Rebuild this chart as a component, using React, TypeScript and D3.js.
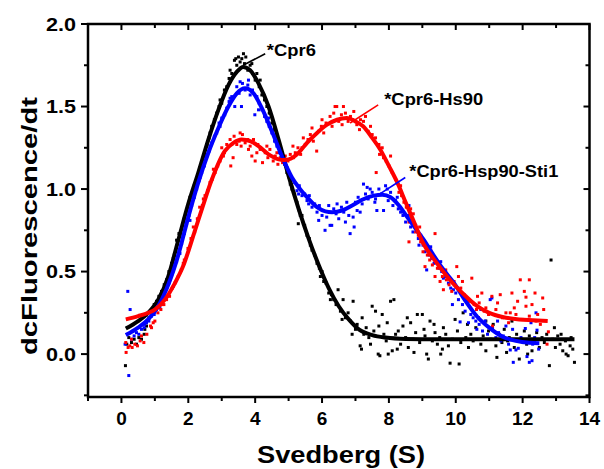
import React from "react";
import * as d3 from "d3";

// ---------- data ----------
const blackFitX = [0.13, 0.5, 0.8, 1.1, 1.4, 1.7, 2.0, 2.3, 2.6, 2.9, 3.2, 3.45, 3.64, 3.85, 4.1, 4.4, 4.7, 5.0, 5.3, 5.6, 5.9, 6.2, 6.5, 6.8, 7.1, 7.5, 7.9, 8.5, 9.5, 11, 12.5, 13.55];
const blackFitY = [0.155, 0.2, 0.25, 0.33, 0.47, 0.69, 0.91, 1.1, 1.3, 1.48, 1.63, 1.71, 1.74, 1.72, 1.64, 1.5, 1.3, 1.08, 0.88, 0.7, 0.54, 0.4, 0.29, 0.21, 0.15, 0.115, 0.1, 0.092, 0.09, 0.09, 0.09, 0.09];

const blueFitX = [0.13, 0.5, 0.8, 1.1, 1.4, 1.7, 2.0, 2.3, 2.6, 2.9, 3.2, 3.45, 3.7, 3.95, 4.2, 4.5, 4.84, 5.1, 5.34, 5.6, 5.85, 6.1, 6.3, 6.6, 6.9, 7.2, 7.55, 7.8, 8.05, 8.3, 8.55, 8.8, 9.05, 9.3, 9.6, 9.95, 10.3, 10.65, 11.0, 11.4, 11.8, 12.2, 12.5];
const blueFitY = [0.115, 0.16, 0.21, 0.29, 0.42, 0.6, 0.83, 1.04, 1.22, 1.37, 1.5, 1.58, 1.61, 1.58, 1.49, 1.35, 1.18, 1.07, 1.0, 0.94, 0.89, 0.865, 0.86, 0.87, 0.9, 0.935, 0.96, 0.965, 0.95, 0.9, 0.83, 0.76, 0.69, 0.61, 0.52, 0.43, 0.32, 0.225, 0.16, 0.105, 0.08, 0.068, 0.065];

const redFitX = [0.13, 0.5, 0.8, 1.0, 1.3, 1.6, 1.84, 2.17, 2.44, 2.69, 3.09, 3.35, 3.59, 3.85, 4.1, 4.4, 4.7, 4.84, 5.0, 5.3, 5.55, 5.85, 6.15, 6.45, 6.74, 7.0, 7.23, 7.5, 7.74, 8.0, 8.25, 8.5, 8.73, 9.03, 9.4, 9.74, 10.0, 10.3, 10.64, 11.0, 11.4, 11.9, 12.3, 12.75];
const redFitY = [0.21, 0.23, 0.25, 0.27, 0.33, 0.43, 0.53, 0.73, 0.9, 1.05, 1.23, 1.28, 1.3, 1.29, 1.26, 1.21, 1.18, 1.176, 1.18, 1.22, 1.28, 1.34, 1.39, 1.42, 1.43, 1.41, 1.38, 1.31, 1.24, 1.14, 1.04, 0.92, 0.81, 0.67, 0.56, 0.47, 0.41, 0.35, 0.29, 0.25, 0.225, 0.21, 0.205, 0.2];

const blackPts: [number, number][] = [
  [0.12, -0.07], [0.16, 0.06], [0.22, 0.1], [0.3, 0.07], [0.38, 0.09], [0.45, 0.06], [0.52, 0.1], [0.6, 0.09], [0.68, 0.12], [0.75, 0.17],
  [0.82, 0.22], [0.9, 0.26], [0.98, 0.3], [1.05, 0.32], [1.12, 0.35], [1.2, 0.38], [1.28, 0.42], [1.35, 0.45], [1.42, 0.5], [1.5, 0.55],
  [1.58, 0.6], [1.65, 0.69], [1.72, 0.73], [1.8, 0.76], [1.88, 0.82], [1.95, 0.87], [2.02, 0.92], [2.1, 0.97], [2.18, 1.02], [2.25, 1.05],
  [2.32, 1.1], [2.4, 1.16], [2.48, 1.2], [2.55, 1.27], [2.62, 1.31], [2.7, 1.38], [2.78, 1.42], [2.85, 1.46], [2.92, 1.5], [3.0, 1.52],
  [3.08, 1.6], [3.15, 1.62], [3.22, 1.67], [3.3, 1.7], [3.38, 1.78], [3.45, 1.75], [3.5, 1.8], [3.55, 1.77], [3.6, 1.79], [3.68, 1.76],
  [3.72, 1.8], [3.78, 1.72], [3.85, 1.75], [3.92, 1.7], [4.0, 1.66], [4.05, 1.7], [4.12, 1.62], [4.2, 1.57], [4.28, 1.54], [4.35, 1.5],
  [4.42, 1.46], [4.5, 1.4], [4.58, 1.36], [4.65, 1.32], [4.72, 1.26], [4.8, 1.22], [4.88, 1.17], [4.95, 1.1], [5.02, 1.07], [5.1, 1.0],
  [5.18, 0.97], [5.25, 0.92], [5.29, 0.79], [5.32, 0.87], [5.4, 0.84], [5.48, 0.78], [5.55, 0.72], [5.62, 0.7], [5.7, 0.63], [5.78, 0.6],
  [5.85, 0.55], [5.92, 0.52], [6.0, 0.5], [6.05, 0.44], [6.12, 0.43], [6.2, 0.37], [6.28, 0.36], [6.35, 0.33], [6.42, 0.3], [6.48, 0.39],
  [6.55, 0.26], [6.63, 0.33], [6.7, 0.22], [6.78, 0.25], [6.85, 0.2], [6.93, 0.32], [7.0, 0.15], [7.05, 0.18], [7.14, 0.05], [7.18, 0.03],
  [7.25, 0.12], [7.32, 0.16], [7.4, 0.1], [7.5, 0.29], [7.55, 0.14], [7.6, 0.26], [7.68, 0.0], [7.73, -0.01], [7.8, 0.24], [7.85, 0.12],
  [7.92, 0.08], [7.98, 0.0], [8.05, 0.32], [8.1, 0.02], [8.15, 0.33], [8.2, 0.12], [8.28, 0.14], [8.35, 0.06], [8.42, 0.17], [8.5, 0.1],
  [8.58, 0.04], [8.65, 0.19], [8.72, 0.09], [8.8, 0.13], [8.85, 0.24], [8.92, 0.07], [9.0, 0.24], [9.08, 0.11], [9.13, 0.0], [9.18, -0.03],
  [9.23, 0.2], [9.3, 0.08], [9.38, 0.13], [9.45, 0.06], [9.52, 0.1], [9.6, 0.03], [9.63, 0.16], [9.7, 0.12], [9.78, 0.05], [9.83, -0.055],
  [9.9, 0.09], [9.98, 0.21], [10.05, 0.14], [10.1, -0.06], [10.15, 0.07], [10.22, 0.25], [10.3, 0.1], [10.38, 0.04], [10.45, 0.12], [10.52, 0.08],
  [10.6, 0.16], [10.68, 0.22], [10.75, 0.06], [10.82, 0.11], [10.9, 0.02], [10.98, 0.14], [11.05, 0.09], [11.12, 0.18], [11.2, 0.05], [11.23, -0.02],
  [11.3, 0.12], [11.38, 0.07], [11.45, 0.15], [11.52, 0.01], [11.6, 0.1], [11.68, 0.2], [11.75, 0.04], [11.82, 0.12], [11.9, -0.03], [11.98, 0.09],
  [12.05, 0.14], [12.12, 0.06], [12.2, 0.11], [12.28, 0.02], [12.35, 0.08], [12.42, 0.13], [12.5, 0.04], [12.58, 0.1], [12.65, 0.07], [12.72, 0.12],
  [12.8, -0.07], [12.85, 0.57], [12.9, 0.09], [12.98, 0.04], [13.05, 0.11], [13.12, 0.06], [13.2, 0.02], [13.28, 0.08], [13.3, 0.0], [13.36, -0.01],
  [13.42, 0.05], [13.5, 0.03], [13.55, -0.05],
  [0.7, 0.15], [1.0, 0.27], [1.3, 0.41], [1.55, 0.58], [1.75, 0.72], [2.05, 0.95], [2.35, 1.13], [2.65, 1.34], [2.95, 1.54], [3.25, 1.72],
  [3.42, 1.79], [3.65, 1.82], [3.9, 1.76], [4.15, 1.66], [4.45, 1.47], [4.75, 1.25], [5.05, 1.03], [5.35, 0.84], [5.65, 0.66], [5.95, 0.47],
  [6.25, 0.33], [6.6, 0.21], [6.9, 0.12], [7.2, 0.22], [7.45, 0.06], [7.7, 0.17], [7.95, 0.19], [8.25, 0.03], [8.55, 0.22], [8.75, 0.01],
  [9.05, 0.15], [9.35, 0.18], [9.55, 0.0], [10.35, 0.18], [10.9, 0.2], [11.55, 0.08], [12.15, 0.0], [12.95, 0.16], [13.15, 0.12], [13.45, 0.1],
];

const bluePts: [number, number][] = [
  [0.11, 0.06], [0.19, 0.38], [0.22, -0.13], [0.26, 0.27], [0.3, 0.09], [0.38, 0.11], [0.45, 0.13], [0.52, 0.12], [0.6, 0.15], [0.68, 0.16],
  [0.75, 0.19], [0.82, 0.2], [0.9, 0.23], [0.98, 0.24], [1.05, 0.27], [1.12, 0.3], [1.2, 0.33], [1.28, 0.36], [1.35, 0.4], [1.42, 0.43],
  [1.5, 0.48], [1.58, 0.53], [1.65, 0.56], [1.72, 0.62], [1.8, 0.67], [1.88, 0.73], [1.95, 0.79], [2.02, 0.84], [2.1, 0.9], [2.18, 0.95],
  [2.25, 1.0], [2.32, 1.05], [2.4, 1.1], [2.48, 1.14], [2.55, 1.2], [2.62, 1.23], [2.7, 1.28], [2.78, 1.32], [2.85, 1.34], [2.92, 1.4],
  [3.0, 1.43], [3.09, 1.45], [3.15, 1.49], [3.22, 1.53], [3.3, 1.56], [3.39, 1.5], [3.45, 1.62], [3.52, 1.58], [3.59, 1.5], [3.62, 1.64],
  [3.7, 1.6], [3.78, 1.63], [3.85, 1.57], [3.92, 1.6], [3.99, 1.45], [4.05, 1.56], [4.12, 1.52], [4.2, 1.48], [4.28, 1.44], [4.35, 1.41],
  [4.42, 1.38], [4.5, 1.34], [4.58, 1.29], [4.65, 1.26], [4.72, 1.22], [4.8, 1.2], [4.88, 1.15], [4.95, 1.13], [5.02, 1.08], [5.1, 1.06],
  [5.18, 1.04], [5.25, 0.99], [5.32, 1.02], [5.4, 0.96], [5.48, 0.97], [5.55, 0.93], [5.62, 0.96], [5.7, 0.89], [5.78, 0.91], [5.85, 0.86],
  [5.92, 0.9], [6.0, 0.84], [6.09, 0.75], [6.14, 0.83], [6.2, 0.9], [6.24, 0.78], [6.29, 0.78], [6.35, 0.88], [6.42, 0.85], [6.5, 0.82],
  [6.58, 0.89], [6.65, 0.86], [6.74, 0.92], [6.8, 0.84], [6.84, 0.73], [6.93, 0.83], [6.96, 0.77], [7.0, 0.92], [7.08, 0.95], [7.14, 0.86],
  [7.2, 0.91], [7.24, 1.03], [7.3, 0.97], [7.38, 0.94], [7.44, 1.0], [7.5, 0.98], [7.58, 0.92], [7.64, 0.87], [7.7, 1.0], [7.78, 0.97],
  [7.84, 0.87], [7.9, 1.02], [7.98, 0.93], [8.05, 0.98], [8.12, 0.9], [8.2, 0.93], [8.28, 0.88], [8.35, 0.86], [8.42, 0.84], [8.5, 0.8],
  [8.58, 0.84], [8.65, 0.77], [8.72, 0.74], [8.8, 0.78], [8.88, 0.7], [8.95, 0.72], [9.02, 0.66], [9.08, 0.62], [9.13, 0.51], [9.2, 0.6],
  [9.28, 0.58], [9.35, 0.55], [9.42, 0.57], [9.5, 0.52], [9.58, 0.5], [9.63, 0.46], [9.7, 0.47], [9.78, 0.43], [9.85, 0.4], [9.9, 0.3],
  [9.93, 0.39], [10.0, 0.37], [10.08, 0.33], [10.13, 0.195], [10.2, 0.3], [10.28, 0.26], [10.38, 0.19], [10.45, 0.24], [10.52, 0.22], [10.6, 0.2],
  [10.63, 0.15], [10.7, 0.18], [10.8, 0.14], [10.88, 0.2], [10.95, 0.12], [11.03, 0.33], [11.08, 0.34], [11.1, 0.16], [11.2, 0.1], [11.28, 0.13],
  [11.35, 0.08], [11.42, 0.11], [11.5, 0.17], [11.58, 0.06], [11.63, 0.025], [11.72, -0.05], [11.8, 0.025], [11.87, 0.035], [11.95, 0.1], [12.02, 0.07],
  [12.08, 0.155], [12.13, -0.015], [12.2, -0.05], [12.28, -0.04], [12.3, 0.06], [12.36, 0.1], [12.4, 0.25], [12.43, 0.145], [12.48, 0.03],
  [0.35, 0.14], [0.7, 0.18], [1.15, 0.28], [1.45, 0.45], [1.75, 0.61], [2.05, 0.81], [2.35, 1.07], [2.65, 1.26], [2.95, 1.38], [3.25, 1.55],
  [3.55, 1.65], [3.8, 1.66], [4.1, 1.48], [4.4, 1.43], [4.7, 1.18], [5.0, 1.11], [5.3, 0.97], [5.6, 0.91], [5.9, 0.81], [6.45, 0.91],
  [6.7, 0.8], [7.05, 0.87], [7.35, 1.01], [7.6, 0.94], [7.95, 1.0], [8.25, 0.95], [8.6, 0.9], [8.9, 0.66], [9.25, 0.65], [9.55, 0.56],
  [10.25, 0.36], [10.75, 0.27], [11.25, 0.2], [11.7, 0.15], [12.25, 0.19],
];

const redPts: [number, number][] = [
  [0.13, 0.07], [0.14, 0.01], [0.2, 0.04], [0.25, 0.05], [0.32, 0.04], [0.4, 0.06], [0.48, 0.05], [0.56, 0.08], [0.67, 0.07], [0.76, 0.12],
  [0.87, 0.17], [0.95, 0.19], [1.0, 0.2], [1.09, 0.25], [1.18, 0.27], [1.27, 0.3], [1.35, 0.33], [1.44, 0.35], [1.52, 0.4], [1.6, 0.43],
  [1.7, 0.47], [1.79, 0.51], [1.88, 0.57], [1.99, 0.64], [2.08, 0.7], [2.19, 0.74], [2.27, 0.82], [2.34, 0.89], [2.42, 0.9], [2.5, 0.96],
  [2.58, 0.99], [2.65, 1.04], [2.72, 1.06], [2.8, 1.1], [2.88, 1.14], [2.95, 1.17], [3.0, 1.25], [3.08, 1.22], [3.15, 1.27], [3.25, 1.3],
  [3.27, 1.14], [3.34, 1.19], [3.37, 1.32], [3.45, 1.27], [3.52, 1.29], [3.58, 1.26], [3.62, 1.33], [3.7, 1.28], [3.78, 1.3], [3.85, 1.26],
  [3.9, 1.2], [3.95, 1.3], [4.0, 1.17], [4.08, 1.27], [4.15, 1.24], [4.22, 1.16], [4.3, 1.22], [4.38, 1.19], [4.44, 1.24], [4.54, 1.17],
  [4.6, 1.2], [4.68, 1.15], [4.75, 1.19], [4.82, 1.16], [4.9, 1.2], [4.98, 1.17], [5.05, 1.21], [5.13, 1.26], [5.2, 1.22], [5.28, 1.25],
  [5.36, 1.21], [5.44, 1.31], [5.5, 1.27], [5.58, 1.3], [5.65, 1.33], [5.74, 1.29], [5.84, 1.23], [5.9, 1.35], [5.98, 1.38], [6.05, 1.34],
  [6.12, 1.4], [6.24, 1.44], [6.3, 1.38], [6.39, 1.5], [6.44, 1.5], [6.5, 1.41], [6.58, 1.45], [6.64, 1.5], [6.7, 1.46], [6.78, 1.41],
  [6.85, 1.44], [6.92, 1.42], [7.04, 1.39], [7.12, 1.36], [7.24, 1.41], [7.3, 1.44], [7.38, 1.35], [7.5, 1.33], [7.6, 1.31], [7.62, 1.1],
  [7.7, 1.27], [7.8, 1.25], [7.84, 1.19], [7.92, 1.17], [8.0, 1.14], [8.1, 1.1], [8.2, 1.06], [8.3, 0.98], [8.38, 0.96], [8.45, 0.92],
  [8.52, 0.89], [8.6, 0.8], [8.6, 0.68], [8.68, 0.83], [8.73, 0.85], [8.8, 0.74], [8.88, 0.72], [8.95, 0.68], [9.02, 0.62], [9.08, 0.53],
  [9.15, 0.6], [9.22, 0.57], [9.3, 0.54], [9.38, 0.47], [9.38, 0.73], [9.45, 0.52], [9.53, 0.44], [9.6, 0.47], [9.63, 0.39], [9.72, 0.45],
  [9.8, 0.42], [9.88, 0.38], [9.95, 0.44], [10.03, 0.53], [10.08, 0.47], [10.15, 0.4], [10.23, 0.36], [10.3, 0.33], [10.38, 0.32], [10.48, 0.46],
  [10.55, 0.3], [10.62, 0.27], [10.7, 0.31], [10.78, 0.37], [10.85, 0.26], [10.9, 0.28], [10.98, 0.24], [11.08, 0.35], [11.1, 0.17], [11.2, 0.27],
  [11.33, 0.36], [11.4, 0.22], [11.5, 0.25], [11.58, 0.19], [11.63, 0.25], [11.68, 0.37], [11.75, 0.28], [11.85, 0.32], [11.93, 0.45], [12.0, 0.21],
  [12.1, 0.29], [12.1, 0.345], [12.2, 0.45], [12.2, 0.23], [12.28, 0.3], [12.37, 0.37], [12.45, 0.24], [12.53, 0.18], [12.63, 0.27], [12.73, 0.06],
  [12.77, 0.135],
  [0.3, 0.09], [0.6, 0.11], [0.9, 0.16], [1.22, 0.3], [1.55, 0.41], [1.85, 0.55], [2.15, 0.77], [2.45, 0.94], [2.75, 1.12], [3.05, 1.2],
  [3.3, 1.27], [3.55, 1.34], [3.8, 1.24], [4.05, 1.22], [4.35, 1.26], [4.65, 1.22], [5.15, 1.19], [5.4, 1.25], [5.7, 1.37], [6.0, 1.42],
  [6.35, 1.46], [6.6, 1.39], [6.95, 1.47], [7.15, 1.42], [7.45, 1.38], [7.72, 1.21], [8.05, 1.2], [8.35, 1.02], [8.65, 0.88], [8.92, 0.77],
  [9.25, 0.63], [9.7, 0.51], [10.2, 0.44], [10.65, 0.35], [11.25, 0.31], [11.8, 0.24], [12.05, 0.38], [12.4, 0.2], [12.6, 0.34],
];

const xMajorTicks = [0, 2, 4, 6, 8, 10, 12, 14];
const xMinorTicks = [-1, 1, 3, 5, 7, 9, 11, 13];
const yMajorTicks = [0, 0.5, 1.0, 1.5, 2.0];
const yMinorTicks = [-0.25, 0.25, 0.75, 1.25, 1.75];

const labels = [
  { text: "*Cpr6", color: "#000000", x0: 3.64, y0: 1.75, x1: 4.3, y1: 1.82, tx: 4.35, ty: 1.805, len: 49 },
  { text: "*Cpr6-Hs90", color: "#ff0000", x0: 6.84, y0: 1.4, x1: 7.68, y1: 1.51, tx: 7.86, ty: 1.51, len: 99 },
  { text: "*Cpr6-Hsp90-Sti1", color: "#0000ff", x0: 7.65, y0: 0.96, x1: 8.49, y1: 1.07, tx: 8.61, ty: 1.07, len: 149 },
];

const FONT = "'Liberation Sans', Arial, Helvetica, sans-serif";

export default function App() {
  const left = 88, right = 589.5, top = 24, bottom = 397;
  const x = d3.scaleLinear().domain([-1, 14]).range([left, right]);
  const y = d3.scaleLinear().domain([-0.26, 2.0]).range([bottom, top]);

  const line = d3
    .line<[number, number]>()
    .x((d) => x(d[0]))
    .y((d) => y(d[1]))
    .curve(d3.curveMonotoneX);

  const fits = [
    { xs: blackFitX, ys: blackFitY, color: "#000000" },
    { xs: blueFitX, ys: blueFitY, color: "#0000ff" },
    { xs: redFitX, ys: redFitY, color: "#ff0000" },
  ];
  const scatters = [
    { pts: blackPts, color: "#000000" },
    { pts: bluePts, color: "#0000ff" },
    { pts: redPts, color: "#ff0000" },
  ];
  const fmt = d3.format(".1f");

  return (
    <svg
      width={604}
      height={469}
      style={{ position: "absolute", left: 0, top: 0, background: "#fff" }}
      fontFamily={FONT}
    >
      <rect x={0} y={0} width={604} height={469} fill="#fff" />
      {scatters.map((s, i) => (
        <g key={i} fill={s.color}>
          {s.pts.map((p, j) => (
            <rect key={j} x={x(p[0]) - 1.5} y={y(p[1]) - 1.5} width={3} height={3} />
          ))}
        </g>
      ))}
      {fits.map((f, i) => (
        <path
          key={i}
          d={line(f.xs.map((v, k) => [v, f.ys[k]] as [number, number])) || ""}
          fill="none"
          stroke={f.color}
          strokeWidth={4}
          strokeLinejoin="round"
        />
      ))}
      {labels.map((l, i) => (
        <g key={i}>
          <line x1={x(l.x0)} y1={y(l.y0)} x2={x(l.x1)} y2={y(l.y1)} stroke={l.color} strokeWidth={1.6} />
          <text
            x={x(l.tx)}
            y={y(l.ty)}
            fontSize={17}
            fontWeight="bold"
            fill="#000"
            textLength={l.len}
            lengthAdjust="spacingAndGlyphs"
          >
            {l.text}
          </text>
        </g>
      ))}
      <rect x={left} y={top} width={right - left} height={bottom - top} fill="none" stroke="#000" strokeWidth={2.5} />
      {xMajorTicks.map((t) => (
        <g key={"xM" + t}>
          <line x1={x(t)} x2={x(t)} y1={bottom} y2={bottom + 6} stroke="#000" strokeWidth={2} />
          <line x1={x(t)} x2={x(t)} y1={top} y2={top + 6} stroke="#000" strokeWidth={2} />
          <text x={x(t)} y={425} textAnchor="middle" fontSize={19} fontWeight="bold">
            {t}
          </text>
        </g>
      ))}
      {xMinorTicks.map((t) => (
        <g key={"xm" + t}>
          <line x1={x(t)} x2={x(t)} y1={bottom} y2={bottom + 4} stroke="#000" strokeWidth={2} />
          <line x1={x(t)} x2={x(t)} y1={top} y2={top + 4} stroke="#000" strokeWidth={2} />
        </g>
      ))}
      {yMajorTicks.map((t) => (
        <g key={"yM" + t}>
          <line x1={left - 7} x2={left} y1={y(t)} y2={y(t)} stroke="#000" strokeWidth={2} />
          <line x1={right - 6} x2={right} y1={y(t)} y2={y(t)} stroke="#000" strokeWidth={2} />
          <text
            x={76}
            y={y(t) + 6.5}
            textAnchor="end"
            fontSize={19}
            fontWeight="bold"
            textLength={30}
            lengthAdjust="spacingAndGlyphs"
          >
            {fmt(t)}
          </text>
        </g>
      ))}
      {yMinorTicks.map((t) => (
        <g key={"ym" + t}>
          <line x1={left - 4} x2={left} y1={y(t)} y2={y(t)} stroke="#000" strokeWidth={2} />
          <line x1={right - 4} x2={right} y1={y(t)} y2={y(t)} stroke="#000" strokeWidth={2} />
        </g>
      ))}
      <text
        x={341}
        y={463}
        textAnchor="middle"
        fontSize={23}
        fontWeight="bold"
        textLength={168}
        lengthAdjust="spacingAndGlyphs"
      >
        Svedberg (S)
      </text>
      <text
        transform={`translate(37,226) rotate(-90)`}
        textAnchor="middle"
        fontSize={22}
        fontWeight="bold"
        textLength={258}
        lengthAdjust="spacingAndGlyphs"
      >
        dcFluorescence/dt
      </text>
    </svg>
  );
}
